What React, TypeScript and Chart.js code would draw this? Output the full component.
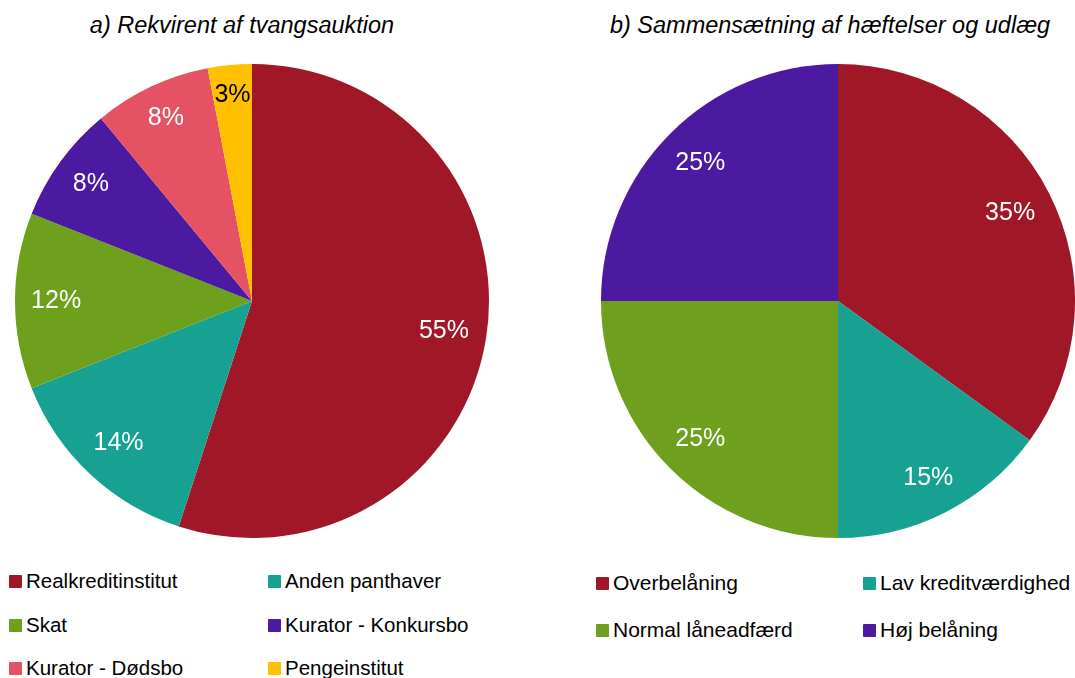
import React, { useEffect, useRef } from "react";
import { Chart, registerables } from "chart.js";

Chart.register(...registerables);

const titleA = "a) Rekvirent af tvangsauktion";
const titleB = "b) Sammensætning af hæftelser og udlæg";

const leftLabels = [
  "Realkreditinstitut",
  "Anden panthaver",
  "Skat",
  "Kurator - Konkursbo",
  "Kurator - Dødsbo",
  "Pengeinstitut",
];
const leftValues = [55, 14, 12, 8, 8, 3];
const leftColors = ["#A01828", "#17A192", "#6EA01E", "#4C1AA0", "#E55264", "#FFC000"];
const leftTextColors = ["#FFFFFF", "#FFFFFF", "#FFFFFF", "#FFFFFF", "#FFFFFF", "#000000"];

const rightLabels = ["Overbelåning", "Lav kreditværdighed", "Normal låneadfærd", "Høj belåning"];
const rightValues = [35, 15, 25, 25];
const rightColors = ["#A01828", "#17A192", "#6EA01E", "#4C1AA0"];
const rightTextColors = ["#FFFFFF", "#FFFFFF", "#FFFFFF", "#FFFFFF"];

const FONT = "'Liberation Sans', Arial, sans-serif";

function makeLabelPlugin(textColors: string[]) {
  return {
    id: "pctLabels",
    afterDatasetsDraw(chart: any) {
      const ctx = chart.ctx;
      const meta = chart.getDatasetMeta(0);
      const data = chart.data.datasets[0].data as number[];
      const total = data.reduce((a, b) => a + b, 0);
      ctx.save();
      ctx.font = `25px ${FONT}`;
      ctx.textAlign = "center";
      ctx.textBaseline = "middle";
      meta.data.forEach((arc: any, i: number) => {
        const { x, y, startAngle, endAngle, outerRadius } = arc.getProps(
          ["x", "y", "startAngle", "endAngle", "outerRadius"],
          true
        );
        const text = Math.round((data[i] / total) * 100) + "%";
        const mid = (startAngle + endAngle) / 2;
        const ux = Math.cos(mid);
        const uy = Math.sin(mid);
        const hw = ctx.measureText(text).width / 2;
        const hh = 12;
        // place the label box just inside the outer edge along the bisector
        const r = outerRadius * 0.932 - (hw * Math.abs(ux) + hh * Math.abs(uy));
        ctx.fillStyle = textColors[i];
        ctx.fillText(text, x + ux * r, y + uy * r);
      });
      ctx.restore();
    },
  };
}

function Pie({
  labels,
  values,
  colors,
  textColors,
  style,
}: {
  labels: string[];
  values: number[];
  colors: string[];
  textColors: string[];
  style: React.CSSProperties;
}) {
  const ref = useRef<HTMLCanvasElement | null>(null);
  useEffect(() => {
    if (!ref.current) return;
    const chart = new Chart(ref.current, {
      type: "pie",
      data: {
        labels,
        datasets: [
          {
            data: values,
            backgroundColor: colors,
            borderWidth: 0,
          },
        ],
      },
      options: {
        animation: false,
        responsive: false,
        maintainAspectRatio: false,
        layout: { padding: 0 },
        plugins: {
          legend: { display: false },
          tooltip: { enabled: false },
          title: { display: false },
        },
      },
      plugins: [makeLabelPlugin(textColors)],
    });
    return () => chart.destroy();
  }, []);
  return <canvas ref={ref} width={474} height={474} style={{ position: "absolute", ...style }} />;
}

function Legend({
  labels,
  colors,
  left,
  col2,
  rows,
  fontSize,
}: {
  labels: string[];
  colors: string[];
  left: number;
  col2: number;
  rows: number[];
  fontSize: number;
}) {
  return (
    <>
      {labels.map((l, i) => {
        const row = Math.floor(i / 2);
        const x = i % 2 === 0 ? left : col2;
        const baseline = rows[row];
        const lh = Math.round(fontSize);
        const baseOff = (lh - 1.117 * fontSize) / 2 + 0.905 * fontSize;
        return (
          <div key={l}>
            <div
              style={{
                position: "absolute",
                left: x,
                top: baseline - 13,
                width: 13,
                height: 13,
                borderRadius: 1,
                background: colors[i],
              }}
            />
            <div
              style={{
                position: "absolute",
                left: x + 17,
                top: baseline - baseOff,
                font: `${fontSize}px ${FONT}`,
                lineHeight: `${lh}px`,
                color: "#000",
                whiteSpace: "nowrap",
              }}
            >
              {l}
            </div>
          </div>
        );
      })}
    </>
  );
}

export default function App() {
  const titleStyle: React.CSSProperties = {
    position: "absolute",
    top: 13,
    textAlign: "center",
    font: `italic 23.5px ${FONT}`,
    lineHeight: "24px",
    whiteSpace: "nowrap",
    color: "#000",
  };
  return (
    <div
      style={{
        position: "absolute",
        left: 0,
        top: 0,
        width: 1075,
        height: 678,
        overflow: "hidden",
        background: "#fff",
        fontFamily: FONT,
      }}
    >
      <div style={{ ...titleStyle, left: 0, width: 484 }}>{titleA}</div>
      <div style={{ ...titleStyle, left: 591, width: 478 }}>{titleB}</div>
      <Pie
        labels={leftLabels}
        values={leftValues}
        colors={leftColors}
        textColors={leftTextColors}
        style={{ left: 15, top: 64 }}
      />
      <Pie
        labels={rightLabels}
        values={rightValues}
        colors={rightColors}
        textColors={rightTextColors}
        style={{ left: 601, top: 64 }}
      />
      <Legend
        labels={leftLabels}
        colors={leftColors}
        left={9}
        col2={268}
        rows={[588, 632, 675]}
        fontSize={20.5}
      />
      <Legend
        labels={rightLabels}
        colors={rightColors}
        left={596}
        col2={863}
        rows={[590, 636.5]}
        fontSize={21}
      />
    </div>
  );
}
